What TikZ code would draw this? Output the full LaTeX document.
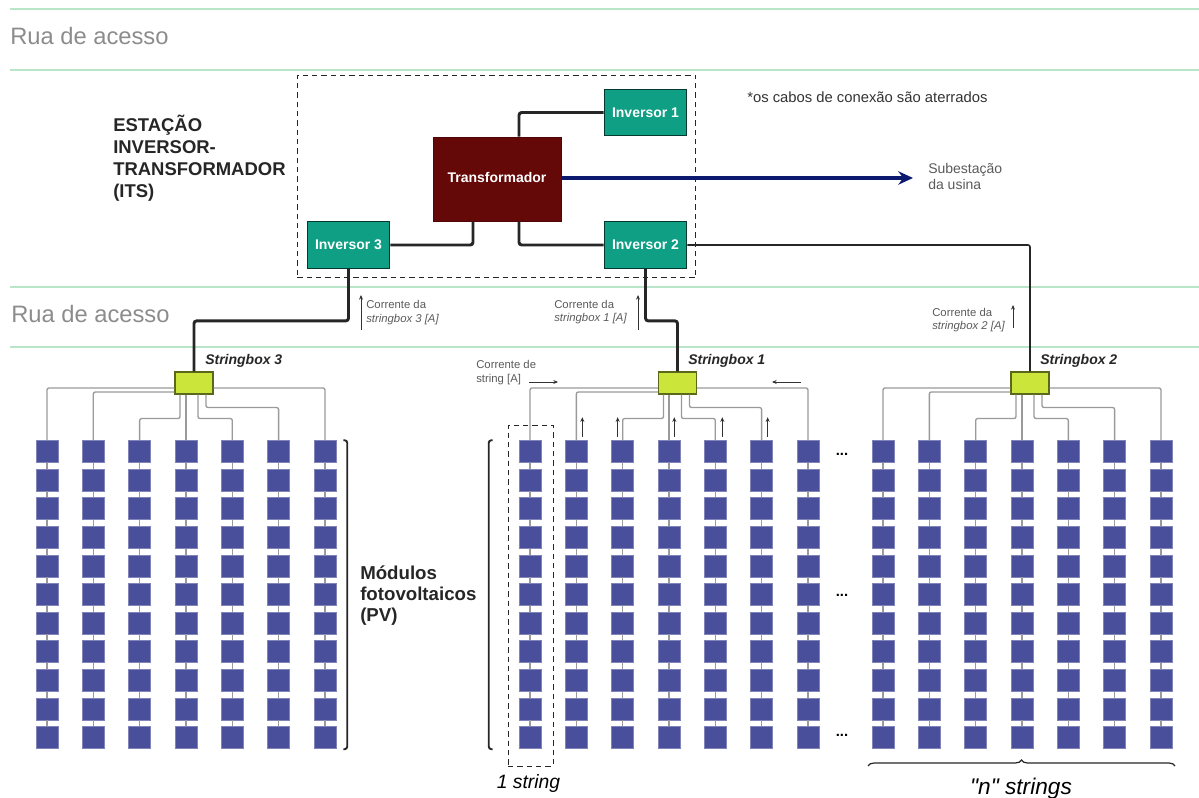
\documentclass[tikz,border=0pt]{standalone}
\usepackage{fontspec}
\setmainfont{Liberation Sans}
\newfontfamily\rawfont{Liberation Sans}
\usetikzlibrary{arrows.meta,decorations.pathreplacing}
\definecolor{roadgreen}{HTML}{B9E6C8}
\definecolor{roadgray}{HTML}{8C8C8C}
\definecolor{notegray}{HTML}{5A5A5A}
\definecolor{wiregray}{HTML}{9A9A9A}
\definecolor{moduleblue}{HTML}{4A4F9B}
\definecolor{boxlime}{HTML}{CBE53B}
\definecolor{invgreen}{HTML}{0F9F84}
\definecolor{trafored}{HTML}{640808}
\definecolor{linkblue}{HTML}{0B1A6E}
\tikzset{
  road/.style={roadgreen, line width=1pt},
  roadtext/.style={anchor=west, inner sep=0pt, text=roadgray, font=\fontsize{17.8}{20}\selectfont},
  inverter/.style={draw=black!65!invgreen, fill=invgreen, line width=0.8pt, minimum width=62pt,
    minimum height=35pt, inner sep=0pt, text=white, font=\fontsize{10.5}{12}\selectfont\bfseries},
  stringbox/.style={draw=boxlime!45!black, fill=boxlime, line width=0.8pt, minimum width=28.5pt,
    minimum height=16.5pt, inner sep=0pt},
  pvmodule/.style={fill=moduleblue, draw=moduleblue!70!white, line width=0.4pt, minimum size=16.5pt, inner sep=0pt},
  hvwire/.style={black!85, line width=2.2pt, rounded corners=2pt},
  wire/.style={wiregray, line width=1pt, rounded corners=1.5pt},
  flow/.style={black!80, line width=0.6pt, -{Stealth[length=3.5pt,width=3pt]}},
  note/.style={anchor=west, inner sep=0pt, align=left, text=notegray, font=\fontsize{8.5}{10}\selectfont},
  boxlabel/.style={anchor=west, inner sep=0pt, text=black!85, font=\fontsize{10.5}{12}\selectfont\bfseries\itshape},
  dashbox/.style={draw=black!85, dash pattern=on 4pt off 3pt, inner sep=0pt},
  dots/.style={inner sep=0pt, font=\fontsize{11}{12}\selectfont\bfseries}
}

\begin{document}
\begin{tikzpicture}[x=0.75pt, y=-0.75pt]
  \useasboundingbox (0,0) rectangle (1199,798);
  % access roads
  \foreach \ly in {9,70,287,347}
    \draw[road] (10,\ly) -- (1199,\ly);
  \node[roadtext] (road1) at (10,36) {Rua de acesso};
  \node[roadtext] (road2) at (11,314) {Rua de acesso};

  % station
  \node[dashbox, line width=0.9pt, minimum width=299pt, minimum height=152pt] (its) at (496.5,176.5) {};
  \node[anchor=north west, inner sep=0pt, align=left, text=black!85,
    font=\fontsize{13.85}{16.5}\selectfont\bfseries] (itstext) at (113,115) {ESTAÇÃO\\INVERSOR-\\TRANSFORMADOR\\(ITS)};
  \node[fill=trafored, draw=trafored!80!black, minimum width=96pt, minimum height=63pt, inner sep=0pt,
    text=white, font=\fontsize{10.5}{12}\selectfont\bfseries] (trafo) at (497,179) {\raisebox{2pt}{Transformador}};
  \node[inverter] (inv1) at (645.5,112.5) {Inversor 1};
  \node[inverter] (inv2) at (645.5,245) {Inversor 2};
  \node[inverter] (inv3) at (348.5,245) {Inversor 3};
  \node[anchor=west, inner sep=0pt, text=black!80, font=\fontsize{11.1}{13}\selectfont] (aterrados) at (747,97) {*os cabos de conexão são aterrados};
  \node[anchor=west, inner sep=0pt, align=left, text=notegray, font=\fontsize{10.5}{12}\selectfont] (subest) at (928,176) {Subestação\\da usina};
  \coordinate (subarrow) at (913,178);

  \draw[hvwire] ([xshift=16.5pt]trafo.north) |- (inv1.west);
  \draw[hvwire] ([xshift=-18pt]trafo.south) |- (inv3.east);
  \draw[hvwire] ([xshift=16.5pt]trafo.south) |- (inv2.west);
  \draw[linkblue, line width=2.6pt, -{Stealth[length=11pt,width=10pt]}] (trafo.east |- subarrow) -- (subarrow);

  % pv strings, one group per stringbox
  \foreach \g/\gx/\sx in {3/47/194, 1/530/677.5, 2/883/1030} {
    \node[stringbox] (sb\g) at (\sx,383) {};
    \foreach \c in {1,...,7} {
      \pgfmathsetmacro{\mx}{\gx+(\c-1)*46.33}
      \foreach \r in {1,...,11} {
        \pgfmathsetmacro{\my}{451.5+(\r-1)*28.6}
        \node[pvmodule] (m\g-\c-\r) at (\mx,\my) {};
      }
      \foreach \r [remember=\r as \p (initially 1)] in {2,...,11}
        \draw[wire] (m\g-\c-\p) -- (m\g-\c-\r);
    }
    \draw[wire] ([yshift=-3.75pt]sb\g.west) -| (m\g-1-1.north);
    \draw[wire] ([yshift=-6.75pt]sb\g.west) -| (m\g-2-1.north);
    \draw[wire] ([xshift=-10.5pt]sb\g.south) -- ++(0,24) -| (m\g-3-1.north);
    \draw[wire] (sb\g.south -| m\g-4-1.north) -- (m\g-4-1.north);
    \draw[wire] ([xshift=3pt]sb\g.south) -- ++(0,24) -| (m\g-5-1.north);
    \draw[wire] ([xshift=9pt]sb\g.south) -- ++(0,13) -| (m\g-6-1.north);
    \draw[wire] ([yshift=-3.75pt]sb\g.east) -| (m\g-7-1.north);
  }

  % feeders to the stringboxes
  \draw[hvwire] (inv3.south) -- ++(0,52) -| (sb3.north);
  \draw[hvwire] (inv2.south) -- ++(0,52) -| (sb1.north);
  \draw[black!85, line width=1.2pt, rounded corners=1.5pt] (inv2.east) -| (sb2.north);

  \node[boxlabel] (sb3text) at (205,361) {Stringbox 3};
  \node[boxlabel] (sb1text) at (688,361) {Stringbox 1};
  \node[boxlabel] (sb2text) at (1040,361) {Stringbox 2};

  % currents
  \coordinate (flow3a) at (361,330);  \coordinate (flow3b) at (361,295);
  \coordinate (flow1a) at (638,330);  \coordinate (flow1b) at (638,295);
  \coordinate (flow2a) at (1013,328); \coordinate (flow2b) at (1013,305);
  \draw[flow] (flow3a) -- (flow3b);
  \draw[flow] (flow1a) -- (flow1b);
  \draw[flow] (flow2a) -- (flow2b);
  \node[note] (cur3) at (366,312.5) {Corrente da\\\textit{stringbox 3 [A]}};
  \node[note] (cur1) at (554,312) {Corrente da\\\textit{stringbox 1 [A]}};
  \node[note] (cur2) at (932,320) {Corrente da\\\textit{stringbox 2 [A]}};
  \node[note] (curs) at (476,372.5) {Corrente de\\string [A]};
  \coordinate (flowsa) at (529,382); \coordinate (flowsb) at (558,382);
  \coordinate (flowsc) at (801,382); \coordinate (flowsd) at (772,382);
  \draw[flow] (flowsa) -- (flowsb);
  \draw[flow] (flowsc) -- (flowsd);
  \foreach \c/\dx in {2/4.5, 3/-3.75, 4/4, 5/5.25, 6/4.5}
    \draw[flow] ([xshift=\dx pt,yshift=2.25pt]m1-\c-1.north) -- ++(0,-20);

  % annotations
  \node[dashbox, line width=0.7pt, minimum width=33.75pt, minimum height=255.75pt] (onestring) at (530.5,595.5) {};
  \node[inner sep=0pt, font=\fontsize{14.5}{16}\selectfont\itshape] (onetext) at (528.5,783) {1 string};
  \node[inner sep=0pt, font=\rawfont\fontsize{17}{18}\selectfont\itshape] (ntext) at (1021,789) {"n" strings};
  \node[anchor=west, inner sep=0pt, align=left, text=black!85,
    font=\fontsize{14}{15.75}\selectfont\bfseries] (pvtext) at (360,596) {Módulos\\fotovoltaicos\\(PV)};
  \draw[black!85, line width=1.4pt, rounded corners=2pt] (m3-7-1.north east) ++(7,0) -- ++(4,0) -- ++(0,309) -- ++(-4,0);
  \draw[black!85, line width=1.4pt, rounded corners=2pt] (m1-1-1.north west) ++(-26,0) -- ++(-4,0) -- ++(0,309) -- ++(4,0);
  \draw[black!85, line width=0.9pt, decorate, decoration={brace, amplitude=4.5pt}] (868,766) -- (1175,766);
  \node[dots] (dots1) at (842,454) {...};
  \node[dots] (dots2) at (842,595) {...};
  \node[dots] (dots3) at (842,735) {...};
\end{tikzpicture}
\end{document}
